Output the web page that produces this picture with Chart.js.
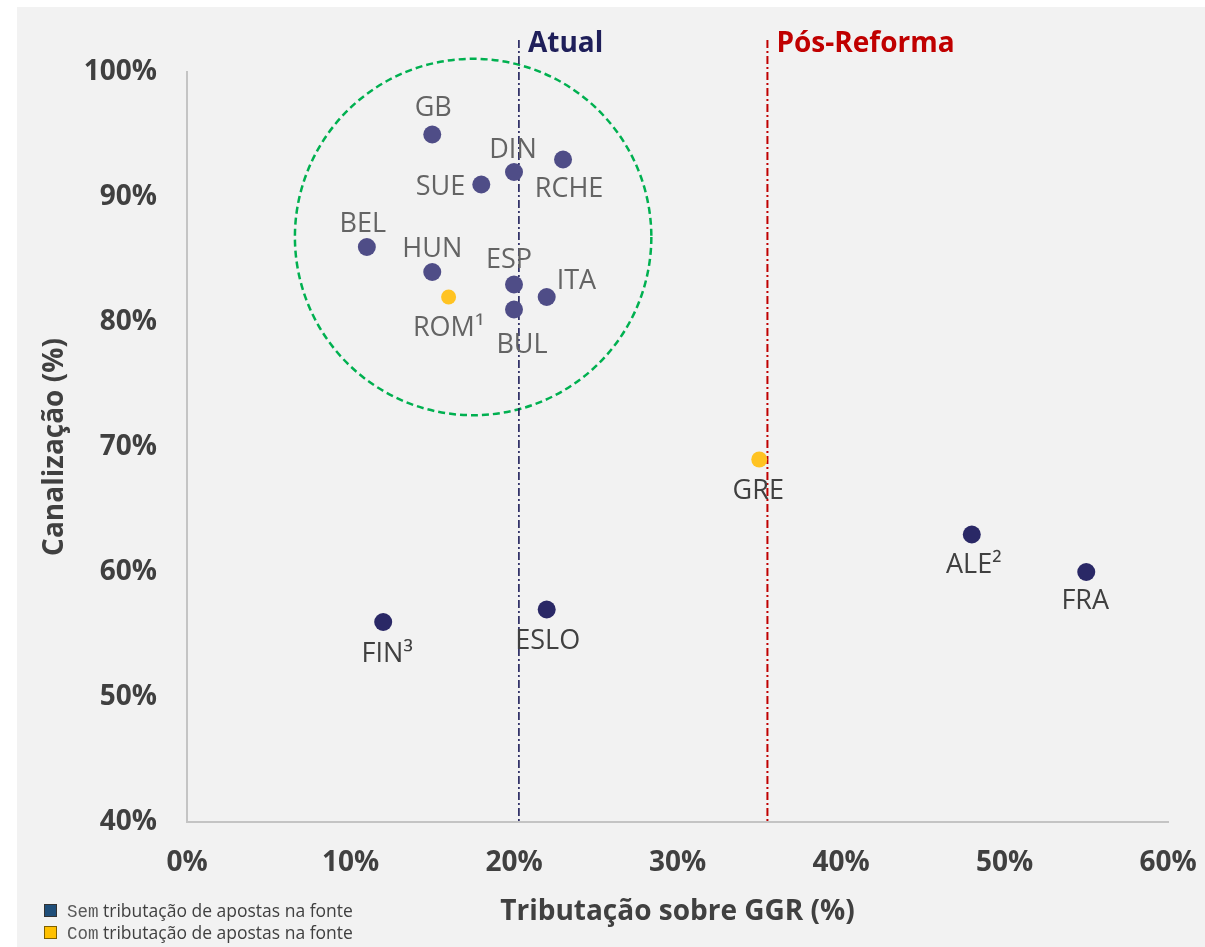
<!DOCTYPE html>
<html>
<head>
<meta charset="utf-8">
<script src="https://cdn.jsdelivr.net/npm/chart.js@4.4.1/dist/chart.umd.min.js"></script>
<style>
  body { margin: 0; background: #fff; width: 1205px; height: 947px; overflow: hidden; position: relative; font-family: "Open Sans", sans-serif; }
  #panel { position: absolute; left: 17px; top: 7px; right: 0; bottom: 0; background: #f2f2f2; }
  canvas { position: absolute; left: 0; top: 0; }
  #legenda { position: absolute; left: 44px; top: 899px; font-size: 17.5px; color: #404040; }
  #legenda div { height: 22px; line-height: 22px; white-space: nowrap; }
  .box { display: inline-block; width: 11px; height: 11px; border: 1px solid #333; margin-right: 10px; vertical-align: 0px; }
  .mono { font-family: "Liberation Mono", monospace; font-size: 17.5px; color: #595959; }
</style>
</head>
<body>
<div id="panel"></div>
<canvas id="grafico" width="1205" height="947"></canvas>
<div id="legenda">
  <div><span class="box" style="background:#1f4e79"></span><span class="mono">Sem</span> tributação de apostas na fonte</div>
  <div><span class="box" style="background:#ffc000;border-color:#7f6000"></span><span class="mono">Com</span> tributação de apostas na fonte</div>
</div>
<script>
// dados
const paises     = ['GB', 'DIN', 'RCHE', 'SUE', 'BEL', 'HUN', 'ESP', 'ITA', 'ROM¹', 'BUL', 'GRE', 'ALE²', 'FRA', 'FIN³', 'ESLO'];
const tributacao = [15, 20, 23, 18, 11, 15, 20, 22, 16, 20, 35, 48, 55, 12, 22];
const canalizacao = [95, 92, 93, 91, 86, 84, 83, 82, 82, 81, 69, 63, 60, 56, 57];
// grupo: 'dentro' = dentro do círculo, 'fora' = fora, 'com' = com tributação na fonte
const grupo      = ['dentro', 'dentro', 'dentro', 'dentro', 'dentro', 'dentro', 'dentro', 'dentro', 'com', 'dentro', 'com', 'fora', 'fora', 'fora', 'fora'];

const xTicks = [0, 10, 20, 30, 40, 50, 60];
const yTicks = [40, 50, 60, 70, 80, 90, 100];

const linhaAtual = 20.3;
const linhaPosReforma = 35.5;
const circuloCentro = [17.5, 86.8];
const circuloRaio = 10.9; // em unidades do eixo x

// posição dos rótulos (dx, dy até a linha de base, alinhamento)
const rotuloPos = {
  'GB': [1, -19, 'center'], 'DIN': [-1, -14, 'center'], 'RCHE': [6, 37, 'center'],
  'SUE': [-16, 10, 'right'], 'BEL': [-4, -15, 'center'], 'HUN': [0, -15, 'center'],
  'ESP': [-5, -17, 'center'], 'ITA': [10, -8, 'left'], 'ROM¹': [0, 39, 'center'],
  'BUL': [8, 43, 'center'], 'GRE': [-1, 39, 'center'], 'ALE²': [2, 38, 'center'],
  'FRA': [-1, 37, 'center'], 'FIN³': [4, 40, 'center'], 'ESLO': [1, 39, 'center']
};

const cores = { dentro: '#4f4d87', fora: '#2a2866', com: '#ffc322' };
const raios = { dentro: 9, fora: 9, com: 8 };

function montaSerie(g) {
  const pts = [];
  paises.forEach((p, i) => {
    if (grupo[i] === g) pts.push({ x: tributacao[i], y: canalizacao[i], nome: p, grupo: g });
  });
  return {
    label: g,
    data: pts,
    backgroundColor: cores[g],
    borderWidth: 0,
    pointRadius: pts.map(pt => pt.nome === 'ROM¹' ? 7.5 : raios[g])
  };
}

const extras = {
  id: 'extras',
  beforeDatasetsDraw(chart) {
    const { ctx, chartArea, scales: { x, y } } = chart;
    ctx.save();
    // círculo verde tracejado
    const cx = x.getPixelForValue(circuloCentro[0]);
    const cy = y.getPixelForValue(circuloCentro[1]);
    const r = x.getPixelForValue(circuloCentro[0] + circuloRaio) - cx;
    ctx.beginPath();
    ctx.arc(cx, cy, r, 0, Math.PI * 2);
    ctx.strokeStyle = '#00b050';
    ctx.lineWidth = 2.5;
    ctx.setLineDash([7, 4]);
    ctx.stroke();

    // linhas verticais
    const linhas = [
      { v: linhaAtual, cor: '#1f1f5a', txt: 'Atual', w: 1.6 },
      { v: linhaPosReforma, cor: '#c00000', txt: 'Pós-Reforma', w: 2 }
    ];
    linhas.forEach(l => {
      const px = x.getPixelForValue(l.v);
      ctx.beginPath();
      ctx.setLineDash([8, 3, 2, 3]);
      ctx.strokeStyle = l.cor;
      ctx.lineWidth = l.w;
      ctx.moveTo(px, chartArea.top - 32);
      ctx.lineTo(px, chartArea.bottom);
      ctx.stroke();
      ctx.setLineDash([]);
      ctx.fillStyle = l.cor;
      ctx.font = 'bold 28px "Open Sans"';
      ctx.textAlign = 'left';
      ctx.textBaseline = 'alphabetic';
      ctx.fillText(l.txt, px + 9, chartArea.top - 20);
    });
    ctx.restore();
  },
  afterDatasetsDraw(chart) {
    const { ctx } = chart;
    ctx.save();
    ctx.font = '27px "Open Sans"';
    ctx.textBaseline = 'alphabetic';
    chart.data.datasets.forEach((ds, di) => {
      const meta = chart.getDatasetMeta(di);
      meta.data.forEach((el, i) => {
        const pt = ds.data[i];
        const pos = rotuloPos[pt.nome];
        ctx.fillStyle = pt.grupo === 'dentro' || pt.nome === 'ROM¹' ? '#646464' : '#404040';
        ctx.textAlign = pos[2];
        ctx.fillText(pt.nome, el.x + pos[0], el.y + pos[1]);
      });
    });
    ctx.restore();
  }
};

const fonteEixo = { family: '"Open Sans"', size: 28, weight: 'bold' };
const fonteTitulo = { family: '"Open Sans"', size: 28, weight: 'bold' };

new Chart(document.getElementById('grafico'), {
  type: 'scatter',
  data: { datasets: ['dentro', 'fora', 'com'].map(montaSerie) },
  options: {
    responsive: false,
    animation: false,
    layout: { padding: { top: 72, right: 37, left: 0, bottom: 0 } },
    plugins: { legend: { display: false }, tooltip: { enabled: false } },
    scales: {
      x: {
        min: 0, max: 60,
        afterBuildTicks: s => { s.ticks = xTicks.map(v => ({ value: v })); },
        afterFit: s => { s.height = 125; s.paddingLeft = 0; s.paddingRight = 0; },
        grid: { display: false, drawTicks: false },
        border: { display: true, color: '#c4c4c4', width: 2 },
        ticks: { color: '#404040', font: fonteEixo, padding: 24, maxRotation: 0, callback: v => v + '%' },
        title: { display: true, text: 'Tributação sobre GGR (%)', color: '#404040', font: fonteTitulo, padding: 18 }
      },
      y: {
        min: 40, max: 100,
        afterBuildTicks: s => { s.ticks = yTicks.map(v => ({ value: v })); },
        afterFit: s => { s.width = 187; s.paddingTop = 0; s.paddingBottom = 0; },
        grid: { display: false, drawTicks: false },
        border: { display: true, color: '#c4c4c4', width: 2 },
        ticks: { color: '#404040', font: fonteEixo, padding: 30, callback: v => v + '%' },
        title: { display: true, text: 'Canalização (%)', color: '#404040', font: fonteTitulo, padding: 38 }
      }
    }
  },
  plugins: [extras]
});
</script>
</body>
</html>
